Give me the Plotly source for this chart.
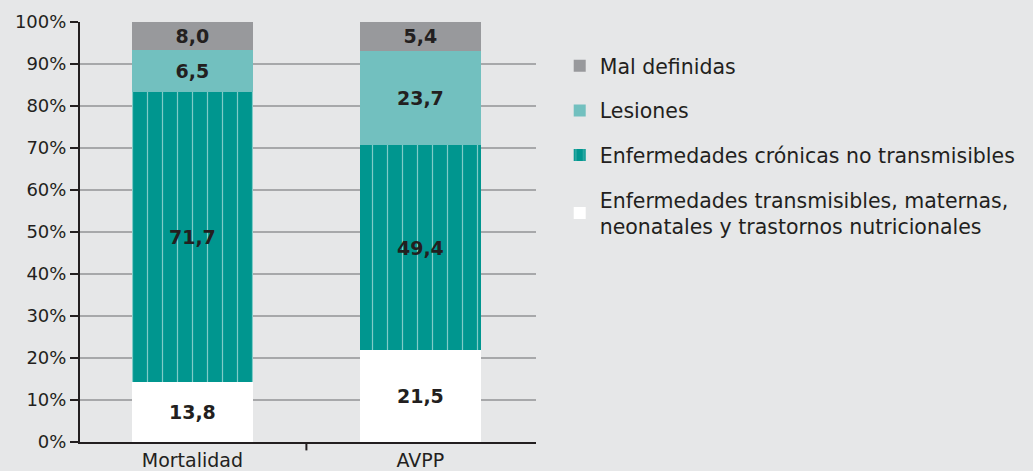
import plotly.graph_objects as go

categories = ["Mortalidad", "AVPP"]

# bar heights as drawn in the picture (%)
transmisibles = [14.4, 21.9]
cronicas = [69.0, 48.8]
lesiones = [9.9, 22.4]
mal_definidas = [6.7, 6.9]

# values printed on the bars
transmisibles_lbl = [13.8, 21.5]
cronicas_lbl = [71.7, 49.4]
lesiones_lbl = [6.5, 23.7]
mal_definidas_lbl = [8.0, 5.4]

names = [
    "Enfermedades transmisibles, maternas,<br>neonatales y trastornos nutricionales",
    "Enfermedades crónicas no transmisibles",
    "Lesiones",
    "Mal definidas",
]

FONT = "DejaVu Sans"
DARK = "#231f20"
fig = go.Figure()

series = [
    (transmisibles, transmisibles_lbl, "#ffffff", None),
    (cronicas, cronicas_lbl, "#00968f",
     dict(shape="|", size=15, solidity=0.08, fgcolor="#ffffff", bgcolor="#00968f", fillmode="overlay")),
    (lesiones, lesiones_lbl, "#72c0bf", None),
    (mal_definidas, mal_definidas_lbl, "#98999c", None),
]

for i, (vals, lbls, color, pattern) in enumerate(series):
    marker = dict(color=color, line=dict(width=0))
    if pattern:
        marker["pattern"] = pattern
    fig.add_trace(
        go.Bar(
            x=categories,
            y=vals,
            customdata=lbls,
            name=names[i],
            legendgroup=str(i),
            legendrank=100 * (len(series) - i),
            marker=marker,
            width=0.53,
            texttemplate="<b>%{customdata:.1f}</b>",
            textposition="inside",
            insidetextanchor="middle",
            textangle=0,
            constraintext="none",
            textfont=dict(family=FONT, size=19, color=DARK),
            hovertemplate="%{x}: %{customdata:.1f}<extra></extra>",
        )
    )

fig.add_shape(
    type="line", xref="x", yref="paper", x0=0.5, x1=0.5, y0=0, y1=-0.02,
    line=dict(color=DARK, width=2),
)

fig.update_layout(
    barmode="stack",
    separators=",.",
    width=1033,
    height=471,
    margin=dict(l=80, r=497, t=22, b=29),
    paper_bgcolor="#e6e7e8",
    plot_bgcolor="#e6e7e8",
    font=dict(family=FONT, size=18, color=DARK),
    showlegend=True,
    legend=dict(
        x=1.052, xanchor="left", y=0.943, yanchor="top",
        traceorder="grouped", tracegroupgap=15,
        font=dict(family=FONT, size=20.5, color=DARK),
        bgcolor="rgba(0,0,0,0)",
    ),
    xaxis=dict(
        range=[-0.493, 1.507], showline=True, linecolor=DARK, linewidth=2,
        showgrid=False, ticks="", tickfont=dict(size=19), automargin=False,
    ),
    yaxis=dict(
        range=[0, 100], dtick=10, ticksuffix="%", showline=True,
        linecolor=DARK, linewidth=2, ticks="outside", ticklen=8,
        tickwidth=2, tickcolor=DARK, gridcolor="#a7a8aa", gridwidth=2,
        zeroline=False, tickfont=dict(size=18), automargin=False,
    ),
)

fig.write_html(
    "out.html",
    config={"displayModeBar": False},
    post_script="document.body.style.margin='0';document.body.style.overflow='hidden';",
)
